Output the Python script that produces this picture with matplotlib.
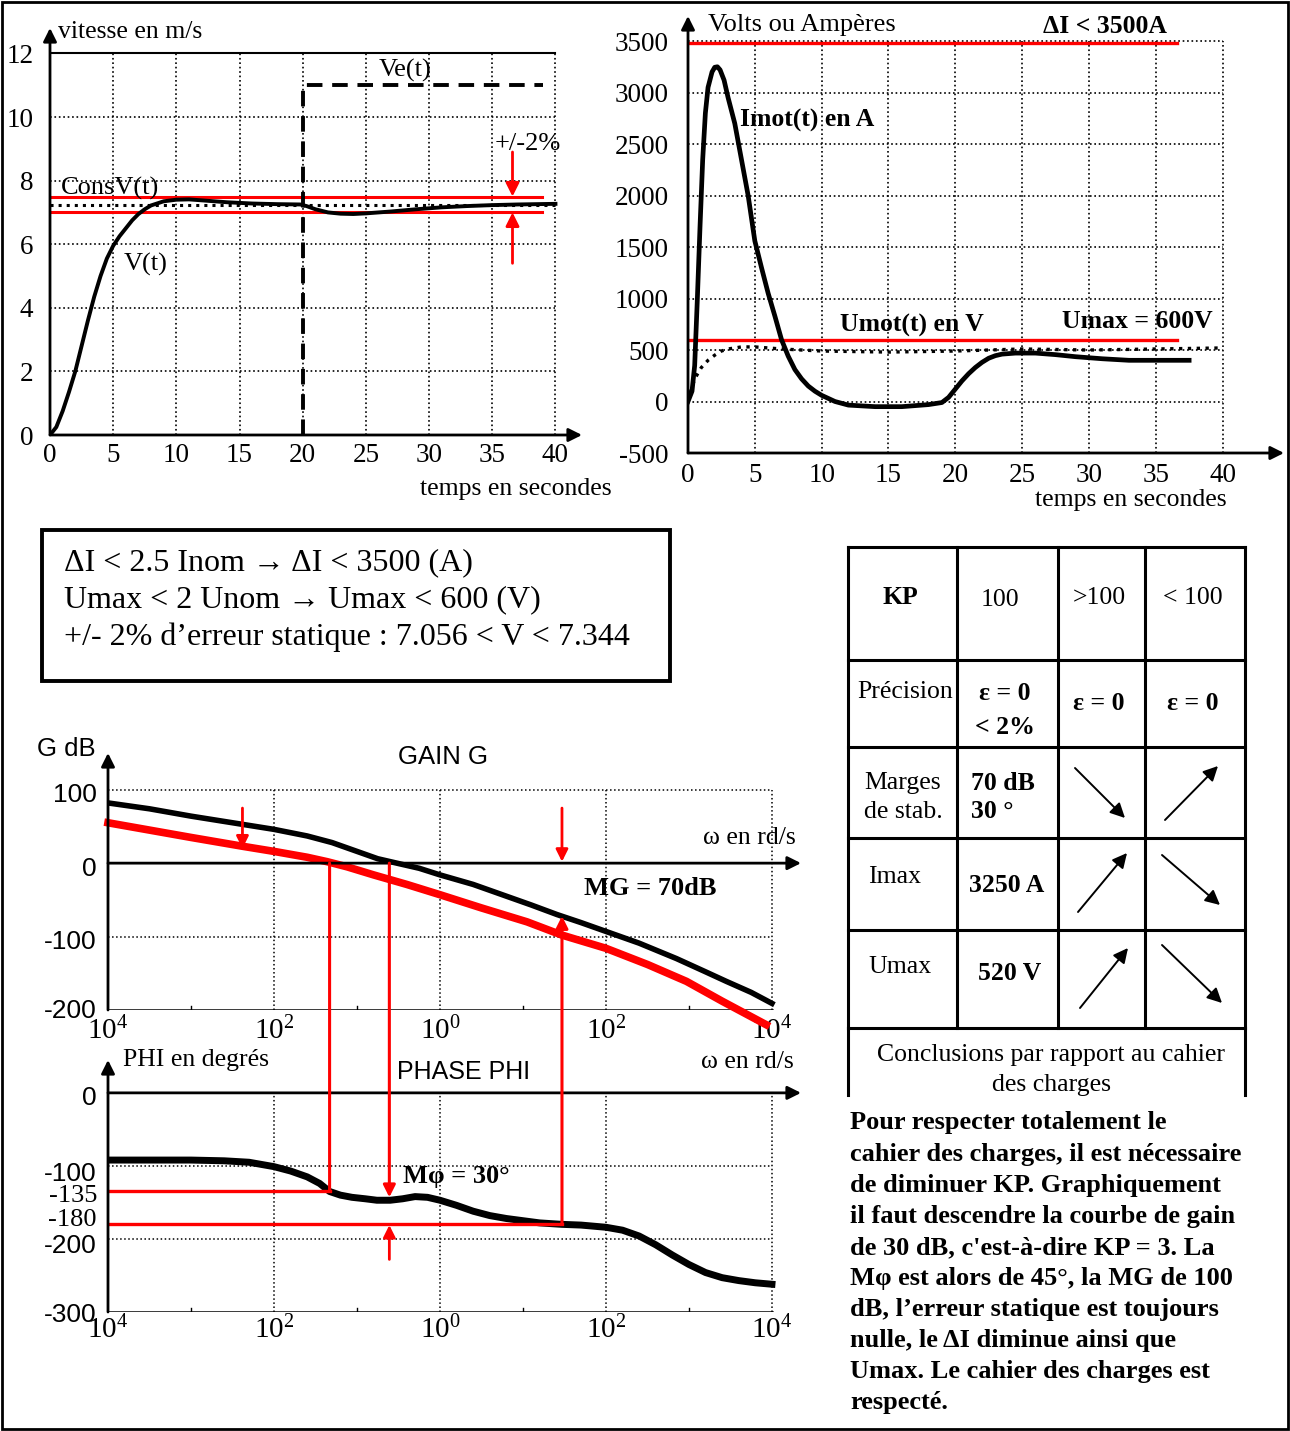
import numpy as np
import matplotlib.pyplot as plt
from matplotlib.patches import Rectangle, ConnectionPatch

W, H = 1290, 1431
SERIF = ['Liberation Serif', 'DejaVu Serif']
SANS = ['Liberation Sans', 'DejaVu Sans']
RED = '#ff0000'

plt.rcParams['font.family'] = SERIF

# ---- vitesse (m/s) vs temps (s)
v_t = [0, 0.5, 1, 1.5, 2, 2.5, 3, 3.5, 4, 4.5, 5, 5.5, 6, 6.5, 7, 7.5, 8, 9, 10, 11,
       12, 14, 16, 18, 19.8, 20.3, 21, 22, 23, 24, 25, 27, 29, 31, 33, 35, 37, 40]
v_val = [0, 0.25, 0.75, 1.35, 2.0, 2.8, 3.6, 4.35, 5.0, 5.55, 5.95, 6.25, 6.5, 6.75,
         6.95, 7.1, 7.22, 7.35, 7.4, 7.41, 7.38, 7.32, 7.28, 7.26, 7.25, 7.2, 7.1, 7.0,
         6.96, 6.95, 6.97, 7.03, 7.1, 7.16, 7.2, 7.23, 7.25, 7.27]
cons_v = 7.22
ve_t = [20, 20, 39]
ve_val = [0, 11, 11]
v_hi, v_lo = 7.5, 7.0

# ---- Imot (A) et Umot (V)
i_t = [0, 0.3, 0.5, 0.7, 0.9, 1.1, 1.3, 1.5, 1.8, 2.0, 2.2, 2.4, 2.7, 3.0, 3.5, 4.0,
       4.5, 5.0, 5.5, 6.0, 6.5, 7.0, 7.5, 8.0, 8.5, 9.0, 9.5, 10.0, 10.5, 11.0, 12.0,
       14.0, 16.0, 18.0, 19.0, 19.5, 20.0, 20.5, 21.0, 21.5, 22.0, 22.5, 23.0, 23.5,
       24.5, 26.0, 27.5, 29.0, 31.0, 33.0, 35.0, 37.5]
i_val = [0, 100, 350, 1000, 1700, 2350, 2800, 3050, 3200, 3245, 3250, 3220, 3120, 2950,
         2700, 2350, 2000, 1560, 1300, 1050, 830, 600, 440, 310, 220, 150, 100, 60, 30,
         0, -35, -50, -50, -30, -10, 40, 120, 200, 270, 330, 380, 420, 445, 460, 470,
         470, 455, 435, 415, 400, 400, 400]
u_t = [0, 0.2, 0.5, 1.0, 1.5, 2.0, 2.5, 3.0, 4.0, 5.0, 7.0, 10, 15, 20, 25, 30, 35, 40]
u_val = [0, 100, 220, 330, 400, 450, 490, 510, 530, 530, 510, 490, 480, 490, 510, 500,
         510, 520]
i_lim, u_lim = 3480, 600

# ---- Bode (log10 omega)
g_logw = [-4, -3.5, -3.0, -2.5, -2.0, -1.6, -1.3, -1.0, -0.75, -0.52, -0.25, 0, 0.4,
          0.75, 1.1, 1.41, 1.7, 2.0, 2.4, 2.85, 3.2, 3.45, 3.75, 4.0]
g_black = [82, 74, 64, 55, 46, 37, 28, 16, 6, 0, -7, -16, -29, -43, -57, -70, -81, -93,
           -109, -130, -148, -161, -176, -191]
r_logw = [-4, -3.5, -3.0, -2.38, -2.0, -1.6, -1.36, -1.12, -0.8, -0.4, 0, 0.5, 1.05,
          1.47, 2.0, 2.5, 2.97, 3.4, 3.93]
g_red = [55, 45, 35, 23, 16, 8, 2, -5, -16, -29, -43, -61, -80, -98, -116, -138, -161,
         -188, -220]
p_logw = [-4, -3.5, -3.0, -2.6, -2.3, -2.0, -1.8, -1.6, -1.45, -1.33, -1.2, -1.06, -0.9,
          -0.76, -0.6, -0.45, -0.3, -0.15, 0, 0.2, 0.4, 0.6, 0.8, 1.0, 1.2, 1.47, 1.7,
          2.0, 2.2, 2.4, 2.6, 2.8, 3.0, 3.2, 3.4, 3.6, 3.8, 4.0]
phase = [-92, -92, -92, -93, -95, -101, -107, -115, -124, -135, -140, -143, -145, -147,
         -147, -145, -142, -143, -147, -154, -162, -168, -172, -175, -178, -180, -181,
         -184, -188, -196, -208, -222, -235, -246, -253, -257, -260, -262]
wa, wb, wc = 10 ** -1.33, 10 ** -0.61, 10 ** 1.47   # crossings used for the margins
wd = 10 ** -2.38

fig = plt.figure(figsize=(W / 100, H / 100), dpi=100)


def px_axes(x0, y0, x1, y1):
    return fig.add_axes([x0 / W, 1 - y1 / H, (x1 - x0) / W, (y1 - y0) / H])


def arrow(ax, tip, tail, color='k', lw=2, ms=20):
    ax.annotate('', xy=tip, xytext=tail,
                arrowprops=dict(arrowstyle='-|>', color=color, lw=lw, mutation_scale=ms,
                                shrinkA=0, shrinkB=0), annotation_clip=False)


# overlay in pixel coordinates for box, table and text
ov = fig.add_axes([0, 0, 1, 1])
ov.set_xlim(0, W)
ov.set_ylim(H, 0)
ov.axis('off')
ov.add_patch(Rectangle((2, 2), W - 4, H - 4, fill=False, lw=2, ec='k'))

# ===== top left: vitesse
ax1 = px_axes(50, 28, 582, 435)
ax1.set_xlim(0, 42.1)
ax1.set_ylim(0, 12.8)
ax1.patch.set_alpha(0)
for s in ax1.spines.values():
    s.set_visible(False)
for t in range(5, 41, 5):
    ax1.plot([t, t], [0, 12], ls=':', color='k', lw=1.2)
for v in range(2, 11, 2):
    ax1.plot([0, 40], [v, v], ls=':', color='k', lw=1.2)
ax1.plot([0, 40], [12, 12], color='k', lw=1.5)
arrow(ax1, (0, 12.8), (0, 0), lw=2)
arrow(ax1, (42.1, 0), (0, 0), lw=2)
ax1.set_xticks(range(0, 41, 5))
ax1.set_yticks(range(0, 13, 2))
ax1.tick_params(length=0, labelsize=19.5, pad=6)
ax1.tick_params(axis='y', pad=12)
ax1.plot([0, 38.9], [v_hi, v_hi], color=RED, lw=2.2)
ax1.plot([0, 38.9], [v_lo, v_lo], color=RED, lw=2.2)
ax1.plot([0, 40], [cons_v, cons_v], color='k', ls=':', lw=2.2)
ax1.plot(ve_t, ve_val, color='k', lw=2.8, dashes=(4, 2.5))
ax1.plot(v_t, v_val, color='k', lw=2.8)
arrow(ax1, (36.6, v_hi), (36.6, 8.9), color=RED, lw=2)
arrow(ax1, (36.6, v_lo), (36.6, 5.4), color=RED, lw=2)
ax1.text(0.6, 12.66, 'vitesse en m/s', fontsize=18.5, va='center')
ax1.text(29.3, -1.7, 'temps en secondes', fontsize=18.5, va='center')
ax1.text(26, 11.45, 'Ve(t)', fontsize=19, va='center')
ax1.text(0.9, 7.75, 'ConsV(t)', fontsize=19, va='center')
ax1.text(5.8, 5.35, 'V(t)', fontsize=19, va='center')
ax1.text(35.2, 9.15, '+/-2%', fontsize=19, va='center')

# ===== top right: courant et tension moteur
ax2 = px_axes(688, 16, 1284, 453)
ax2.set_xlim(0, 44.6)
ax2.set_ylim(-500, 3743)
ax2.patch.set_alpha(0)
for s in ax2.spines.values():
    s.set_visible(False)
for t in range(5, 41, 5):
    ax2.plot([t, t], [-500, 3500], ls=':', color='k', lw=1.2)
for v in range(0, 3501, 500):
    ax2.plot([0, 40], [v, v], ls=':', color='k', lw=1.2)
arrow(ax2, (0, 3743), (0, -500), lw=2)
arrow(ax2, (44.6, -500), (0, -500), lw=2)
ax2.set_xticks(range(0, 41, 5))
yt2 = list(range(-500, 3501, 500))
ax2.set_yticks(yt2, [str(v) for v in yt2])
ax2.tick_params(length=0, labelsize=19.5, pad=7)
ax2.tick_params(axis='y', pad=14)
ax2.plot([0, 36.6], [i_lim, i_lim], color=RED, lw=2.4)
ax2.plot([0, 36.6], [u_lim, u_lim], color=RED, lw=2.4)
ax2.plot(u_t, u_val, color='k', ls=':', lw=2.4)
ax2.plot(i_t, i_val, color='k', lw=3.4)
ax2.text(1.5, 3655, 'Volts ou Ampères', fontsize=19, va='center')
ax2.text(26.6, 3645, 'ΔI < 3500A', fontsize=18.5, weight='bold', va='center')
ax2.text(3.9, 2730, 'Imot(t) en A', fontsize=18.5, weight='bold', va='center')
ax2.text(11.4, 743, 'Umot(t) en V', fontsize=18.5, weight='bold', va='center')
ax2.text(28.0, 772, 'Umax = 600V', fontsize=18.5, weight='bold', va='center')
ax2.text(26.0, -960, 'temps en secondes', fontsize=18.5, va='center')

# ===== text box
ov.add_patch(Rectangle((42, 530), 628, 151, fill=False, lw=2.8, ec='k'))
box_lines = ['ΔI < 2.5 Inom → ΔI < 3500 (A)',
             'Umax < 2 Unom → Umax < 600 (V)',
             '+/- 2% d’erreur statique : 7.056 < V < 7.344']
for k, line in enumerate(box_lines):
    ov.text(64, 563 + 37 * k, line, fontsize=23, va='center')

# ===== Bode: gain
xlab = [r'$\mathregular{10^{4}}$', r'$\mathregular{10^{2}}$', r'$\mathregular{10^{0}}$',
        r'$\mathregular{10^{2}}$', r'$\mathregular{10^{4}}$']
xdec = [1e-4, 1e-2, 1, 1e2, 1e4]


def bode_frame(ax, ytop, ybot, grid_y):
    ax.set_xscale('log')
    ax.patch.set_alpha(0)
    for s in ax.spines.values():
        s.set_visible(False)
    for d in xdec[1:-1]:
        ax.plot([d, d], [ybot, ytop], ls=':', color='k', lw=1.1)
    ax.plot([1e4, 1e4], [ybot, ytop], ls=':', color='k', lw=1.1)
    for g in grid_y:
        ax.plot([1e-4, 1e4], [g, g], ls=':', color='k', lw=1.1)
    ax.plot([1e-4, 1e4], [ybot, ybot], color='k', lw=1.8)
    for m in [1e-3, 1e-1, 1e1, 1e3]:
        ax.plot([m, m], [ybot, ybot + 5], color='k', lw=1)
    ax.set_xticks(xdec, xlab)
    ax.minorticks_off()
    ax.set_yticks([])
    ax.tick_params(length=0, labelsize=21, pad=5)


ax3 = px_axes(108, 753, 801, 1010)
ax3.set_xlim(1e-4, 10 ** 4.35)
ax3.set_ylim(-200, 150)
bode_frame(ax3, 100, -200, [100, -100])
arrow(ax3, (1e-4, 150), (1e-4, -200), lw=2)
arrow(ax3, (10 ** 4.35, 0), (1e-4, 0), lw=2)
for val, dy in zip([100, 0, -100, -200], [-4, -4, -4, -1]):
    ax3.annotate(str(val), xy=(1e-4, val), xytext=(-8, dy), textcoords='offset points',
                 ha='right', va='center', fontsize=19, family=SANS)
ax3.plot(10 ** np.array(g_logw), g_black, color='k', lw=4)
ax3.plot(10 ** np.array(r_logw), g_red, color=RED, lw=5.5, clip_on=False)
arrow(ax3, (wd, 20), (wd, 75), color=RED, lw=2, ms=18)
arrow(ax3, (wc, 2), (wc, 75), color=RED, lw=2, ms=18)
ax3.text(10 ** 0.04, 145, 'GAIN G', fontsize=18.5, family=SANS, ha='center', va='center')
ax3.text(10 ** -4.86, 155, 'G dB', fontsize=18.5, family=SANS, va='center')
ax3.text(10 ** 3.17, 34, 'ω en rd/s', fontsize=18.5, va='center')
ax3.text(10 ** 1.73, -34, 'MG = 70dB', fontsize=19, weight='bold', va='center')

# ===== Bode: phase
ax4 = px_axes(108, 1060, 801, 1312)
ax4.set_xlim(1e-4, 10 ** 4.35)
ax4.set_ylim(-300, 45)
bode_frame(ax4, 0, -300, [-100, -200])
ax4.tick_params(axis='x', pad=3)
arrow(ax4, (1e-4, 45), (1e-4, -300), lw=2)
arrow(ax4, (10 ** 4.35, 0), (1e-4, 0), lw=2)
ph_ticks = [0, -100, -135, -180, -200, -300]
ph_dy = [-4, -6, -3, 3, -5, -2]
for val, dy in zip(ph_ticks, ph_dy):
    fam = SERIF if val in (-135, -180) else SANS
    ax4.annotate(str(val), xy=(1e-4, val), xytext=(-8, dy), textcoords='offset points',
                 ha='right', va='center', fontsize=19, family=fam)
ax4.plot(10 ** np.array(p_logw), phase, color='k', lw=5)
ax4.plot([1e-4, wa], [-135, -135], color=RED, lw=2.4)
ax4.plot([1e-4, wc], [-180, -180], color=RED, lw=2.4)
arrow(ax4, (wb, -181), (wb, -228), color=RED, lw=2, ms=18)
ax4.text(10 ** 0.28, 29, 'PHASE PHI', fontsize=18, family=SANS, ha='center', va='center')
ax4.text(10 ** -3.82, 45, 'PHI en degrés', fontsize=18.5, va='center')
ax4.text(10 ** 3.15, 42, 'ω en rd/s', fontsize=18.5, va='center')
ax4.text(10 ** -0.45, -115, 'Mφ = 30°', fontsize=19, weight='bold', va='center')

# red construction lines between gain and phase
fig.add_artist(ConnectionPatch(xyA=(wa, 0), coordsA=ax3.transData, xyB=(wa, -135),
                               coordsB=ax4.transData, color=RED, lw=2.2))
fig.add_artist(ConnectionPatch(xyA=(wb, 0), coordsA=ax3.transData, xyB=(wb, -143),
                               coordsB=ax4.transData, color=RED, lw=2.2,
                               arrowstyle='-|>', mutation_scale=18))
fig.add_artist(ConnectionPatch(xyA=(wc, -180), coordsA=ax4.transData, xyB=(wc, -72),
                               coordsB=ax3.transData, color=RED, lw=2.2,
                               arrowstyle='-|>', mutation_scale=18))

# ===== table
cols = [848, 957, 1058, 1145, 1245]
rows = [547, 660, 747, 838, 930, 1028]
for x in cols:
    ov.plot([x, x], [rows[0], rows[-1]], color='k', lw=2.2)
for y in rows:
    ov.plot([cols[0], cols[-1]], [y, y], color='k', lw=2.2)
ov.plot([cols[0], cols[0]], [rows[-1], 1095], color='k', lw=2.2)
ov.plot([cols[-1], cols[-1]], [rows[-1], 1095], color='k', lw=2.2)

cells = [
    (900, 598, 'KP', 'bold', 'center'), (1000, 600, '100', 'normal', 'center'),
    (1099, 598, '>100', 'normal', 'center'), (1193, 598, '< 100', 'normal', 'center'),
    (905, 692, 'Précision', 'normal', 'center'), (1005, 694, 'ε = 0', 'bold', 'center'),
    (1005, 728, '< 2%', 'bold', 'center'), (1099, 703, 'ε = 0', 'bold', 'center'),
    (1193, 703, 'ε = 0', 'bold', 'center'),
    (903, 783, 'Marges', 'normal', 'center'), (903, 812, 'de stab.', 'normal', 'center'),
    (971, 783, '70 dB', 'bold', 'left'), (971, 812, '30 °', 'bold', 'left'),
    (895, 877, 'Imax', 'normal', 'center'), (1007, 885, '3250 A', 'bold', 'center'),
    (900, 967, 'Umax', 'normal', 'center'), (1010, 974, '520 V', 'bold', 'center'),
    (1051, 1055, 'Conclusions par rapport au cahier', 'normal', 'center'),
    (1051, 1085, 'des charges', 'normal', 'center'),
]
for x, y, s, wgt, ha in cells:
    ov.text(x, y, s, fontsize=18.5, weight=wgt, ha=ha, va='center')

trends = [((1125, 818), (1075, 768)), ((1218, 766), (1165, 820)),
          ((1127, 853), (1078, 912)), ((1220, 905), (1162, 855)),
          ((1128, 948), (1080, 1008)), ((1222, 1003), (1162, 945))]
for tip, tail in trends:
    arrow(ov, tip, tail, lw=1.4, ms=22)

# ===== conclusion paragraph
para = ['Pour respecter totalement le',
        'cahier des charges, il est nécessaire',
        'de diminuer KP. Graphiquement',
        'il faut descendre la courbe de gain',
        "de 30 dB, c'est-à-dire KP = 3. La",
        'Mφ est alors de 45°, la MG de 100',
        'dB, l’erreur statique est toujours',
        'nulle, le ΔI diminue ainsi que',
        'Umax. Le cahier des charges est',
        'respecté.']
for k, line in enumerate(para):
    ov.text(850, 1123 + 31.1 * k, line, fontsize=19, weight='bold', va='center')

fig.savefig('out.png', dpi=100)
